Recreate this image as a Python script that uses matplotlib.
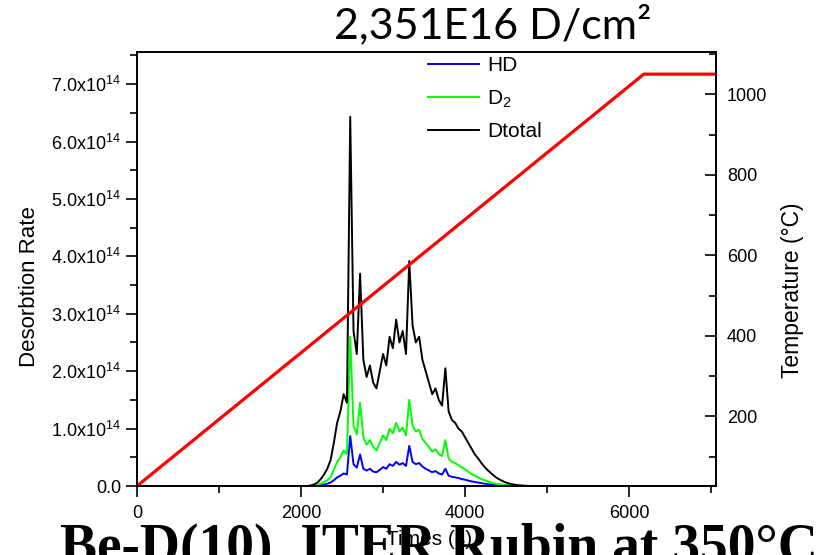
import numpy as np
import matplotlib
matplotlib.use("Agg")
import matplotlib.pyplot as plt
from matplotlib.ticker import MultipleLocator, FuncFormatter

plt.rcParams['font.family'] = ['Liberation Sans', 'DejaVu Sans']
plt.rcParams['mathtext.fontset'] = 'custom'
plt.rcParams['mathtext.rm'] = 'Liberation Sans'
plt.rcParams['mathtext.it'] = 'Liberation Sans:italic'
plt.rcParams['mathtext.bf'] = 'Liberation Sans:bold'

# czas (s) i szybkosci desorpcji (x1e14)
t = np.array([0, 1000, 2000, 2080, 2120, 2160, 2200, 2240, 2280, 2320, 2360, 2400,
              2440, 2480, 2520, 2560, 2600, 2640, 2680, 2720, 2760, 2800, 2840,
              2880, 2920, 2960, 3000, 3040, 3080, 3120, 3160, 3200, 3240, 3280,
              3320, 3360, 3400, 3440, 3480, 3520, 3560, 3600, 3640, 3680, 3720,
              3760, 3800, 3840, 3880, 3920, 3960, 4000, 4040, 4080, 4120, 4160,
              4200, 4240, 4280, 4320, 4360, 4400, 4440, 4480, 4520, 4560, 4600,
              4640, 4680, 4720, 4760, 4800, 5000, 6000, 7060])

hd = np.array([0, 0, 0, 0, 0, 0, 0.01, 0.015, 0.025, 0.04, 0.06, 0.10,
               0.15, 0.18, 0.22, 0.20, 0.87, 0.38, 0.32, 0.55, 0.30, 0.27, 0.30,
               0.25, 0.24, 0.28, 0.33, 0.30, 0.38, 0.35, 0.42, 0.37, 0.40, 0.35,
               0.70, 0.42, 0.38, 0.40, 0.34, 0.30, 0.27, 0.24, 0.26, 0.22, 0.20,
               0.30, 0.18, 0.16, 0.15, 0.14, 0.12, 0.11, 0.095, 0.08, 0.07, 0.06,
               0.05, 0.04, 0.032, 0.025, 0.018, 0.013, 0.009, 0.006, 0.004, 0.002, 0,
               0, 0, 0, 0, 0, 0, 0, 0]) * 1e14

d2 = np.array([0, 0, 0, 0, 0, 0.01, 0.02, 0.04, 0.07, 0.10, 0.15, 0.28,
               0.42, 0.50, 0.62, 0.55, 2.60, 1.05, 0.90, 1.45, 0.85, 0.72, 0.80,
               0.68, 0.62, 0.75, 0.88, 0.80, 1.00, 0.92, 1.10, 0.95, 1.02, 0.88,
               1.50, 1.05, 0.95, 0.98, 0.82, 0.75, 0.68, 0.60, 0.64, 0.56, 0.52,
               0.80, 0.48, 0.42, 0.40, 0.36, 0.33, 0.29, 0.25, 0.21, 0.18, 0.15,
               0.12, 0.10, 0.08, 0.06, 0.045, 0.035, 0.025, 0.018, 0.012, 0.008, 0.005,
               0.003, 0.002, 0.001, 0, 0, 0, 0, 0]) * 1e14

dtotal = np.array([0, 0, 0, 0, 0.01, 0.03, 0.06, 0.12, 0.20, 0.30, 0.45, 0.75,
                   1.10, 1.30, 1.60, 1.45, 6.43, 2.70, 2.30, 3.70, 2.20, 1.90, 2.10,
                   1.80, 1.70, 2.00, 2.30, 2.10, 2.60, 2.40, 2.90, 2.50, 2.70, 2.30,
                   3.92, 2.80, 2.50, 2.60, 2.20, 2.00, 1.80, 1.60, 1.70, 1.50, 1.40,
                   2.05, 1.30, 1.15, 1.10, 1.00, 0.95, 0.85, 0.75, 0.65, 0.55, 0.48,
                   0.40, 0.33, 0.27, 0.22, 0.17, 0.13, 0.10, 0.07, 0.05, 0.035, 0.025,
                   0.015, 0.01, 0.006, 0.003, 0, 0, 0, 0]) * 1e14

# program temperatury
t_temp = [0, 6180, 7060]
temp = [27, 1050, 1050]


def fmt_rate(v, pos):
    if abs(v) < 1e-3:
        return '0.0'
    return r'%.1fx10$^{14}$' % (v / 1e14)


fig = plt.figure(figsize=(8.19, 5.55), dpi=100)
ax = fig.add_axes([0.1673, 0.1243, 0.7069, 0.7820])

ax.plot(t, hd, color='#0000ff', lw=1.4, label='HD')
ax.plot(t, d2, color='#00ff00', lw=1.4, label='D$_2$')
ax.plot(t, dtotal, color='black', lw=1.4, label='Dtotal')

ax.set_xlim(0, 7060)
ax.set_ylim(0, 7.56e14)
ax.xaxis.set_major_locator(MultipleLocator(2000))
ax.xaxis.set_minor_locator(MultipleLocator(1000))
ax.yaxis.set_major_locator(MultipleLocator(1e14))
ax.yaxis.set_minor_locator(MultipleLocator(0.5e14))
ax.yaxis.set_major_formatter(FuncFormatter(fmt_rate))
ax.tick_params(which='major', direction='out', length=8, width=1.2, labelsize=13)
ax.tick_params(which='minor', direction='out', length=5, width=1.2)
ax.tick_params(axis='x', pad=6)
ax.tick_params(top=False, right=False)
for s in ax.spines.values():
    s.set_linewidth(1.2)

ax.set_xlabel('Times (s)', fontsize=15)
ax.xaxis.label.set_va('center')
ax.xaxis.set_label_coords(0.504, -0.124)
ax.set_ylabel('Desorbtion Rate', fontsize=16)
ax.yaxis.label.set_va('center')
ax.yaxis.set_label_coords(-0.1865, 0.459)

leg = ax.legend(loc='upper left', bbox_to_anchor=(0.5026, 0.99), frameon=False,
                fontsize=15, handlelength=2.45, handletextpad=0.4,
                labelspacing=0.62, borderpad=0, borderaxespad=0)

ax2 = ax.twinx()
ax2.plot(t_temp, temp, color='#ff0000', lw=2.3)
ax2.set_ylim(27, 1105)
ax2.yaxis.set_major_locator(MultipleLocator(200))
ax2.yaxis.set_minor_locator(MultipleLocator(100))
ax2.tick_params(which='major', direction='in', length=8, width=1.2, labelsize=13, pad=8)
ax2.tick_params(which='minor', direction='in', length=5, width=1.2)
for s in ax2.spines.values():
    s.set_linewidth(1.2)
ax2.set_ylabel('Temperature (°C)', fontsize=16.5)
ax2.yaxis.label.set_va('center')
ax2.yaxis.set_label_coords(1.133, 0.452)

fig.text(0.601, 1 - 38 / 555, '2,351E16 D/cm²', fontsize=31, family=['Lato', 'DejaVu Sans'],
         ha='center', va='baseline')

# podpis pod wykresem, rysowany pod osiami (etykieta osi X na wierzchu)
fig.text(0.073, 1 - 563 / 555, 'Be-D(10), ITER Rubin at 350°C', fontsize=40,
         family=['Liberation Serif', 'DejaVu Serif'], weight='bold', ha='left',
         va='baseline', zorder=-1)

fig.savefig('out.png', dpi=100)
